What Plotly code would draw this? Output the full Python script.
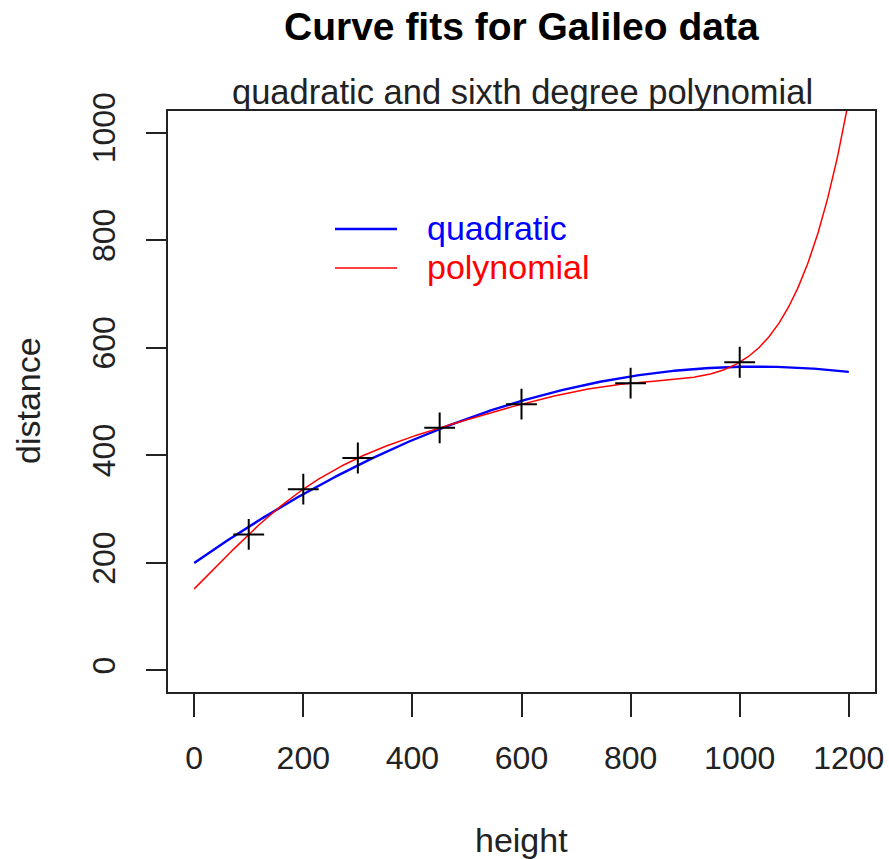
import numpy as np
import plotly.graph_objects as go

# Galileo data
height = [100, 200, 300, 450, 600, 800, 1000]
distance = [253, 337, 395, 451, 495, 534, 573]

x_ticks = [0, 200, 400, 600, 800, 1000, 1200]
y_ticks = [0, 200, 400, 600, 800, 1000]

# fitted curves computed from the data (as the original did)
h = np.array(height, dtype=float)
d = np.array(distance, dtype=float)
quad = np.polynomial.Polynomial.fit(h, d, 2)
poly6 = np.polynomial.Polynomial.fit(h, d, 6)
grid = np.linspace(0, 1200, 601)

FONT = "Liberation Sans"
W, H = 889, 859
L, R, T, B = 168, 14, 111, 167
pw, ph = W - L - R, H - T - B

def px(x):
    return (x - L) / pw

def py(y):
    return (H - B - y) / ph

fig = go.Figure()
fig.add_trace(go.Scatter(x=grid, y=quad(grid), mode="lines",
                         line=dict(color="blue", width=2.4), showlegend=False))
fig.add_trace(go.Scatter(x=grid, y=poly6(grid), mode="lines",
                         line=dict(color="red", width=1.5), showlegend=False))
fig.add_trace(go.Scatter(x=height, y=distance, mode="markers",
                         marker=dict(symbol="cross-thin", size=22,
                                     line=dict(color="black", width=2)),
                         showlegend=False))

axis_common = dict(showline=True, linecolor="#222", linewidth=1.5, mirror=True,
                   ticks="outside", tickcolor="#222", tickwidth=1.5,
                   showgrid=False, zeroline=False, automargin=False,
                   tickfont=dict(family=FONT, size=32, color="#222"))
fig.update_xaxes(range=[-48, 1248], tickvals=x_ticks, ticklen=23,
                 ticklabelstandoff=14, **axis_common)
fig.update_yaxes(range=[-40, 1040], tickvals=y_ticks, ticklen=20,
                 tickangle=-90, ticklabelstandoff=18, **axis_common)

def text(t, x, y, size, color="#222", angle=0, xanchor="center"):
    fig.add_annotation(text=t, x=px(x), y=py(y), xref="paper", yref="paper",
                       showarrow=False, xanchor=xanchor, yanchor="middle",
                       textangle=angle,
                       font=dict(family=FONT, size=size, color=color))

text("<b>Curve fits for Galileo data</b>", 521, 27, 39, "black")
text("quadratic and sixth degree polynomial", 522, 92, 34.5)
text("height", 521, 840, 34)
text("distance", 28, 401, 34, angle=-90)

# legend (drawn manually as in R's legend())
legend_items = [("quadratic", "blue", 229, 2.4), ("polynomial", "red", 268, 1.5)]
for name, col, yy, lw in legend_items:
    fig.add_shape(type="line", xref="paper", yref="paper",
                  x0=px(335), x1=px(397), y0=py(yy), y1=py(yy),
                  line=dict(color=col, width=lw))
    text(name, 425, yy - 1, 34, col, xanchor="left")

fig.update_layout(width=W, height=H, margin=dict(l=L, r=R, t=T, b=B, autoexpand=False),
                  paper_bgcolor="white", plot_bgcolor="white", showlegend=False)
fig.write_html("out.html", config={"displayModeBar": False},
               post_script="document.body.style.margin='0px';"
                           "document.body.style.overflow='hidden';"
                           "document.documentElement.style.overflow='hidden';")
